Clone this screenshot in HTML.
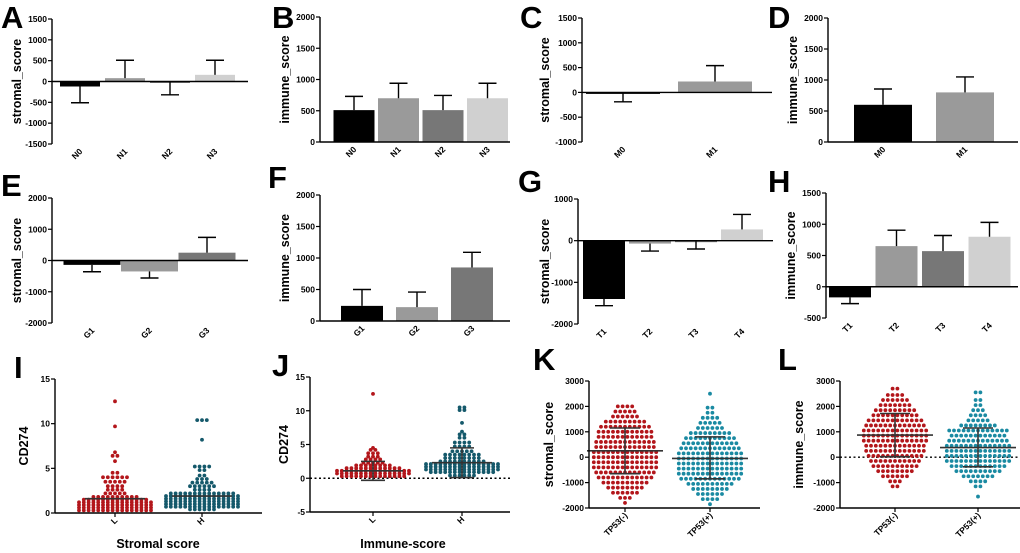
<!DOCTYPE html>
<html><head><meta charset="utf-8"><style>
html,body{margin:0;padding:0;background:#fff;}
svg{display:block;font-family:"Liberation Sans",Arial,sans-serif;}
</style></head><body>
<svg id="fig" width="1020" height="553" viewBox="0 0 1020 553"></svg>
<script>
// ---------- data ----------
const catsA=["N0","N1","N2","N3"], valsA=[-120,80,-10,160], errA=[-510,510,-320,510];
const catsB=["N0","N1","N2","N3"], valsB=[510,700,510,700], errB=[730,940,745,940];
const catsC=["M0","M1"], valsC=[-20,220], errC=[-190,540];
const catsD=["M0","M1"], valsD=[600,800], errD=[855,1050];
const catsE=["G1","G2","G3"], valsE=[-140,-350,250], errE=[-360,-560,740];
const catsF=["G1","G2","G3"], valsF=[240,220,850], errF=[500,460,1090];
const catsG=["T1","T2","T3","T4"], valsG=[-1400,-70,-15,270], errG=[-1560,-250,-200,630];
const catsH=["T1","T2","T3","T4"], valsH=[-170,650,570,800], errH=[-270,905,820,1030];
const ticksA=[-1500,-1000,-500,0,500,1000,1500];
const ticksB=[0,500,1000,1500,2000];
const ticksC=[-1000,-500,0,500,1000,1500];
const ticksE=[-2000,-1000,0,1000,2000];
const ticksG=[-2000,-1000,0,1000];
const ticksH=[-500,0,500,1000,1500];
// dot plots: row values and dot counts per row
const iLrows=[0.3,0.6,0.9,1.2,1.5,1.8,2.2,2.6,3.0,3.5,4.0,4.5,5.8,6.4,6.8,9.7,12.5];
const iLcnt =[16,16,16,16,14,10,5,4,4,5,6,2,1,2,1,1,1];
const iHrows=[0.4,0.7,1.0,1.3,1.6,1.9,2.2,2.6,3.0,3.4,3.8,4.2,4.8,5.2,8.2,10.4];
const iHcnt =[6,16,16,16,16,16,14,4,6,5,3,2,2,4,1,3];
const jLrows=[0.3,0.7,1.1,1.5,1.9,2.3,2.8,3.2,3.7,4.2,4.5,12.5];
const jLcnt =[14,16,16,12,8,5,4,3,3,2,1,1];
const jHrows=[0.4,0.9,1.3,1.7,2.1,2.5,3.0,3.5,4.0,4.7,5.3,6.0,6.5,6.9,8.2,10.1,10.5];
const jHcnt =[6,14,16,16,16,10,8,8,5,4,4,2,2,1,1,2,2];
const kNrows=[-1800,-1600,-1400,-1200,-1000,-800,-600,-400,-200,0,200,400,600,800,1000,1200,1400,1600,1800,2000];
const kNcnt =[1,3,6,8,10,12,13,14,14,14,14,13,13,12,12,11,9,6,5,4];
const kProws=[-1850,-1650,-1450,-1250,-1050,-850,-650,-450,-250,-50,150,350,550,750,950,1150,1350,1550,1750,1950,2500];
const kPcnt =[1,4,6,8,10,13,14,14,14,14,14,13,12,11,9,6,5,4,2,2,1];
const lNrows=[-1150,-950,-750,-550,-350,-150,50,250,450,650,850,1050,1250,1450,1650,1850,2050,2250,2450,2700];
const lNcnt =[2,3,6,8,10,11,12,13,13,14,14,14,13,12,10,9,7,6,4,2];
const lProws=[-1550,-1150,-950,-750,-550,-350,-150,50,250,450,650,850,1050,1250,1450,1650,1850,2050,2250,2550];
const lPcnt =[1,2,4,7,10,12,14,14,14,14,13,12,13,8,5,4,3,2,2,2];
// summary lines: [mean, lower, upper]
const iSumL=[1.6,1.6,1.6], iSumH=[1.9,1.9,1.9];
const jSumL=[1.1,-0.3,2.5], jSumH=[2.3,0.1,4.5];
const kSumN=[250,-650,1150], kSumP=[-50,-850,800];
const lSumN=[870,20,1720], lSumP=[380,-380,1150];

// ---------- drawing ----------
const NS="http://www.w3.org/2000/svg", svg=document.getElementById('fig');
function el(tag,attrs,parent){const e=document.createElementNS(NS,tag);for(const k in attrs)e.setAttribute(k,attrs[k]);(parent||svg).appendChild(e);return e;}
function txt(s,attrs,parent){const t=el('text',attrs,parent);t.textContent=s;return t;}
function scale(v,vmin,vmax,yb,yt){return yb-(v-vmin)/(vmax-vmin)*(yb-yt);}

function axes(g,c,ticks,cats,centers){
  const Y=v=>scale(v,c.vmin,c.vmax,c.yb,c.yt);
  const ax=el('line',{x1:c.ax,y1:c.yt,x2:c.ax,y2:c.yb,stroke:'#000','stroke-width':1.4},g);
  
  ticks.forEach(t=>{
    el('line',{x1:c.ax-4,y1:Y(t),x2:c.ax,y2:Y(t),stroke:'#000','stroke-width':1.2},g);
    const l=txt(String(t),{x:c.ax-5,y:Y(t)+3,'font-size':8.5,'font-weight':'bold','text-anchor':'end'},g);
    
  });
  const yl=txt(c.ylabel,{x:0,y:0,'font-size':12.5,'font-weight':'bold','text-anchor':'middle',transform:`translate(${c.ylx},${(c.yt+c.yb)/2}) rotate(-90)`},g);
  
  const base=c.baseAtZero?Y(0):c.yb;
  const xl=el('line',{x1:c.ax,y1:base,x2:c.xe,y2:base,stroke:'#000','stroke-width':1.4},g);
  
  cats.forEach((s,i)=>{
    const cx=centers[i];
    if(c.xticks) el('line',{x1:cx,y1:c.yb,x2:cx,y2:c.yb+4,stroke:'#000','stroke-width':1.2},g);
    const l=txt(s,{x:0,y:0,'font-size':8.5,'font-weight':'bold','text-anchor':'end',transform:`translate(${cx+3},${c.yb+8}) rotate(-45)`},g);
    
  });
  const L=txt(c.letter,{x:c.lx,y:c.ly,'font-size':31,'font-weight':'bold'},g);
  
  return Y;
}

const barColors=['#000','#9a9a9a','#777','#d0d0d0'];
function barPanel(name,c,cats,vals,errs,ticks,colors){
  const g=el('g',{});
  const centers=cats.map((_,i)=>c.c0+i*c.step);
  const y=v=>scale(v,c.vmin,c.vmax,c.yb,c.yt);
  vals.forEach((v,i)=>{
    const cx=centers[i], y0=y(0), yv=y(v), ye=y(errs[i]);
    const b=el('rect',{x:cx-c.w/2,y:Math.min(y0,yv),width:c.w,height:Math.max(Math.abs(yv-y0),1.5),fill:(colors||barColors)[i]},g);
    
    const e1=el('line',{x1:cx,y1:yv,x2:cx,y2:ye,stroke:'#000','stroke-width':1.4},g);
    
    el('line',{x1:cx-9,y1:ye,x2:cx+9,y2:ye,stroke:'#000','stroke-width':1.4},g);
  });
  c.baseAtZero=true;
  axes(g,c,ticks,cats,centers);
}

function dotGroup(g,cx,rows,cnt,y,color,sp){
  rows.forEach((v,i)=>{
    const n=cnt[i];
    for(let k=0;k<n;k++){
      const off=(k-(n-1)/2)*sp;
      const d=el('circle',{cx:cx+off,cy:y(v),r:1.9,fill:color},g);
      
      
    }
  });
}
function summary(g,cx,s,y,hw,ew){
  el('line',{x1:cx-hw,y1:y(s[0]),x2:cx+hw,y2:y(s[0]),stroke:'#333','stroke-width':1.6},g);
  if(s[1]!==s[2]){
    el('line',{x1:cx,y1:y(s[1]),x2:cx,y2:y(s[2]),stroke:'#333','stroke-width':1.6},g);
    el('line',{x1:cx-ew,y1:y(s[1]),x2:cx+ew,y2:y(s[1]),stroke:'#333','stroke-width':1.6},g);
    el('line',{x1:cx-ew,y1:y(s[2]),x2:cx+ew,y2:y(s[2]),stroke:'#333','stroke-width':1.6},g);
  }
}
function dotPanel(name,c,cats,ticks,groups,cols,sums,opts){
  const g=el('g',{});
  const y=v=>scale(v,c.vmin,c.vmax,c.yb,c.yt);
  if(opts.zeroLine){
    const z=el('line',{x1:c.ax,y1:y(0),x2:c.xe,y2:y(0),stroke:'#000','stroke-width':1.4,'stroke-dasharray':'2,2.5'},g);
    
  }
  groups.forEach((gr,i)=>dotGroup(g,c.centers[i],gr[0],gr[1],y,cols[i],c.sp));
  groups.forEach((gr,i)=>summary(g,c.centers[i],sums[i],y,opts.hw,opts.ew));
  c.xticks=true;
  axes(g,c,ticks,cats,c.centers);
  if(opts.xtitle){const t=txt(opts.xtitle,{x:opts.xtx,y:opts.xty,'font-size':12.5,'font-weight':'bold','text-anchor':'middle'},g);
    }
}

barPanel('panel-a',{ax:52,yt:19,yb:144,vmin:-1500,vmax:1500,xe:248,c0:80,step:45,w:40,ylabel:'stromal_score',ylx:21,letter:'A',lx:1,ly:28},catsA,valsA,errA,ticksA);
barPanel('panel-b',{ax:320,yt:17,yb:142,vmin:0,vmax:2000,xe:510,c0:354,step:44.5,w:41,ylabel:'immune_score',ylx:289,letter:'B',lx:272,ly:28},catsB,valsB,errB,ticksB);
barPanel('panel-c',{ax:582,yt:18,yb:142,vmin:-1000,vmax:1500,xe:772,c0:623,step:92,w:74,ylabel:'stromal_score',ylx:549,letter:'C',lx:520,ly:28},catsC,valsC,errC,ticksC,['#000','#9a9a9a']);
barPanel('panel-d',{ax:828,yt:18,yb:142,vmin:0,vmax:2000,xe:1018,c0:883,step:82,w:58,ylabel:'immune_score',ylx:797,letter:'D',lx:768,ly:28},catsD,valsD,errD,ticksB,['#000','#9a9a9a']);
barPanel('panel-e',{ax:52,yt:198,yb:323,vmin:-2000,vmax:2000,xe:248,c0:92,step:57.5,w:57,ylabel:'stromal_score',ylx:21,letter:'E',lx:1,ly:196},catsE,valsE,errE,ticksE,['#000','#9a9a9a','#777']);
barPanel('panel-f',{ax:320,yt:195,yb:321,vmin:0,vmax:2000,xe:510,c0:362,step:55,w:42,ylabel:'immune_score',ylx:289,letter:'F',lx:268,ly:188},catsF,valsF,errF,ticksB,['#000','#9a9a9a','#777']);
barPanel('panel-g',{ax:578,yt:199,yb:324,vmin:-2000,vmax:1000,xe:773,c0:604,step:46,w:42,ylabel:'stromal_score',ylx:549,letter:'G',lx:518,ly:192},catsG,valsG,errG,ticksG);
barPanel('panel-h',{ax:826,yt:193,yb:318,vmin:-500,vmax:1500,xe:1018,c0:850,step:46.5,w:42,ylabel:'immune_score',ylx:795,letter:'H',lx:768,ly:192},catsH,valsH,errH,ticksH);

const red='#b3161b', teal='#1a8aa2', dteal='#15596b';
dotPanel('panel-i',{ax:55,yt:379,yb:513,vmin:0,vmax:15,xe:262,centers:[115,202],sp:4.8,ylabel:'CD274',ylx:28,letter:'I',lx:14,ly:378},
  ['L','H'],[0,5,10,15],[[iLrows,iLcnt],[iHrows,iHcnt]],[red,dteal],[iSumL,iSumH],{hw:30,ew:0,xtitle:'Stromal score',xtx:158,xty:548});
dotPanel('panel-j',{ax:310,yt:377,yb:512,vmin:-5,vmax:15,xe:510,centers:[373,462],sp:4.8,ylabel:'CD274',ylx:288,letter:'J',lx:272,ly:376},
  ['L','H'],[-5,0,5,10,15],[[jLrows,jLcnt],[jHrows,jHcnt]],[red,dteal],[jSumL,jSumH],{zeroLine:true,hw:30,ew:12,xtitle:'Immune-score',xtx:403,xty:548});
dotPanel('panel-k',{ax:589,yt:381,yb:508,vmin:-2000,vmax:3000,xe:760,centers:[625,710],sp:4.8,ylabel:'stromal_score',ylx:553,letter:'K',lx:533,ly:370},
  ['TP53(-)','TP53(+)'],[-2000,-1000,0,1000,2000,3000],[[kNrows,kNcnt],[kProws,kPcnt]],[red,teal],[kSumN,kSumP],{hw:38,ew:15});
dotPanel('panel-l',{ax:840,yt:381,yb:508,vmin:-2000,vmax:3000,xe:1020,centers:[895,978],sp:4.8,ylabel:'immune_score',ylx:803,letter:'L',lx:778,ly:370},
  ['TP53(-)','TP53(+)'],[-2000,-1000,0,1000,2000,3000],[[lNrows,lNcnt],[lProws,lPcnt]],[red,teal],[lSumN,lSumP],{zeroLine:true,hw:38,ew:15});
</script>
</body></html>
